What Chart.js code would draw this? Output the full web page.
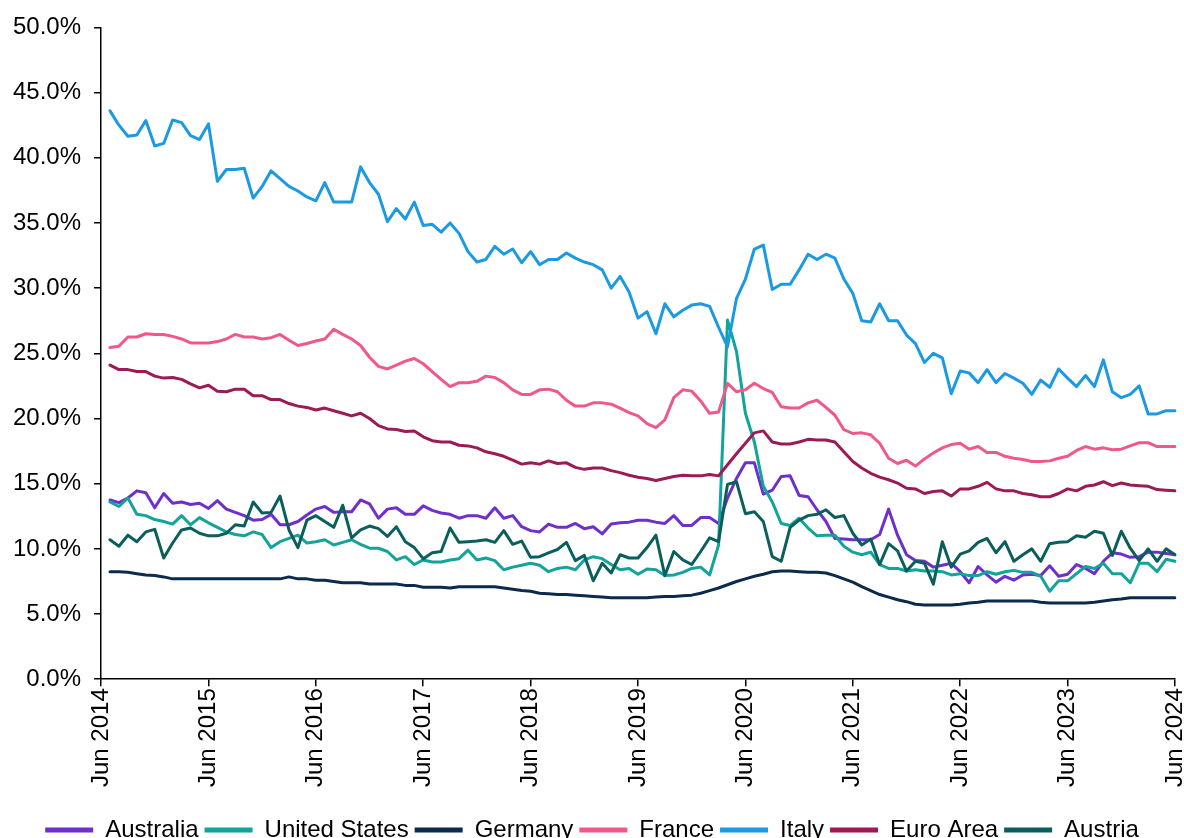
<!DOCTYPE html>
<html>
<head>
<meta charset="utf-8">
<script src="https://cdn.jsdelivr.net/npm/chart.js@4.4.1/dist/chart.umd.min.js"></script>
<style>
  html, body { margin: 0; padding: 0; background: #fff; overflow: hidden; }
  #wrap { position: relative; width: 1184px; height: 838px; }
</style>
</head>
<body>
<div id="wrap"><canvas id="chart"></canvas></div>
<script>
// monthly, Jun 2014 .. Jun 2024 (first month has no reading)
const monthNames = ["Jan", "Feb", "Mar", "Apr", "May", "Jun", "Jul", "Aug", "Sep", "Oct", "Nov", "Dec"];
const months = [];
for (let k = 0; k <= 120; k++) {
  const m = (5 + k) % 12;
  const y = 2014 + Math.floor((5 + k) / 12);
  months.push(`${monthNames[m]} ${y}`);
}

const seriesNames = ["Australia", "United States", "Germany", "France", "Italy", "Euro Area", "Austria"];
const seriesColors = ["#6F2FCC", "#12A39B", "#0C2A4C", "#F0588A", "#1C99E3", "#9C1A55", "#0A5F5C"];

const australia = [null,
  13.75, 13.55, 13.9, 14.45, 14.3, 13.15, 14.25, 13.5, 13.6, 13.4, 13.5, 13.1,
  13.7, 13.05, 12.8, 12.55, 12.2, 12.25, 12.65, 11.85, 11.85, 12.1, 12.6, 13.05,
  13.25, 12.8, 12.85, 12.85, 13.75, 13.45, 12.35, 13.05, 13.15, 12.65, 12.65, 13.3,
  12.95, 12.75, 12.65, 12.35, 12.55, 12.55, 12.35, 13.15, 12.35, 12.55, 11.7, 11.4,
  11.3, 11.9, 11.65, 11.65, 11.95, 11.55, 11.7, 11.15, 11.9, 12.0, 12.05, 12.2,
  12.2, 12.05, 11.95, 12.55, 11.8, 11.8, 12.4, 12.4, 11.95, 13.9, 15.4, 16.6,
  16.6, 14.2, 14.5, 15.55, 15.6, 14.1, 14.0, 13.0, 12.1, 10.8, 10.75, 10.7,
  10.7, 10.7, 11.1, 13.05, 11.05, 9.55, 9.1, 9.05, 8.6, 8.75, 8.9, 8.25,
  7.4, 8.65, 8.0, 7.45, 7.9, 7.6, 8.0, 8.05, 7.95, 8.7, 7.9, 8.05,
  8.8, 8.5, 8.1, 9.05, 9.7, 9.6, 9.35, 9.4, 9.75, 9.75, 9.65, 9.55];

const unitedStates = [null,
  13.6, 13.25, 13.9, 12.65, 12.55, 12.25, 12.1, 11.9, 12.55, 11.85, 12.4, 12.0,
  11.65, 11.3, 11.1, 11.0, 11.3, 11.1, 10.1, 10.55, 10.8, 11.05, 10.45, 10.55,
  10.7, 10.3, 10.5, 10.7, 10.35, 10.05, 10.05, 9.8, 9.15, 9.4, 8.8, 9.15,
  9.0, 9.0, 9.15, 9.25, 9.9, 9.15, 9.3, 9.1, 8.4, 8.6, 8.75, 8.9,
  8.75, 8.25, 8.5, 8.6, 8.4, 9.15, 9.4, 9.25, 8.8, 8.4, 8.5, 8.05,
  8.45, 8.4, 7.95, 8.0, 8.2, 8.5, 8.6, 8.0, 10.3, 27.55, 25.15, 20.4,
  18.2, 14.8, 13.6, 11.95, 11.8, 12.35, 11.6, 11.0, 11.05, 11.05, 10.2, 9.75,
  9.55, 9.75, 8.8, 8.5, 8.5, 8.3, 8.4, 8.3, 8.3, 8.25, 8.0, 8.1,
  7.95, 7.95, 8.25, 8.05, 8.25, 8.35, 8.2, 8.2, 7.9, 6.75, 7.55, 7.55,
  8.1, 8.65, 8.5, 8.9, 8.1, 8.1, 7.4, 8.9, 8.9, 8.25, 9.2, 9.05];

const germany = [null,
  8.25, 8.25, 8.2, 8.1, 8.0, 7.95, 7.85, 7.7, 7.7, 7.7, 7.7, 7.7,
  7.7, 7.7, 7.7, 7.7, 7.7, 7.7, 7.7, 7.7, 7.85, 7.7, 7.7, 7.6,
  7.6, 7.5, 7.4, 7.4, 7.4, 7.3, 7.3, 7.3, 7.3, 7.2, 7.2, 7.05,
  7.05, 7.05, 7.0, 7.1, 7.1, 7.1, 7.1, 7.1, 7.0, 6.9, 6.8, 6.75,
  6.6, 6.55, 6.5, 6.5, 6.45, 6.4, 6.35, 6.3, 6.25, 6.25, 6.25, 6.25,
  6.25, 6.3, 6.35, 6.35, 6.4, 6.45, 6.6, 6.8, 7.0, 7.25, 7.5, 7.7,
  7.9, 8.05, 8.25, 8.3, 8.3, 8.25, 8.2, 8.2, 8.15, 7.95, 7.7, 7.45,
  7.1, 6.8, 6.5, 6.3, 6.1, 5.95, 5.75, 5.7, 5.7, 5.7, 5.7, 5.75,
  5.85, 5.9, 6.0, 6.0, 6.0, 6.0, 6.0, 6.0, 5.9, 5.85, 5.85, 5.85,
  5.85, 5.85, 5.9, 6.0, 6.1, 6.15, 6.25, 6.25, 6.25, 6.25, 6.25, 6.25];

const france = [null,
  25.45, 25.55, 26.25, 26.25, 26.5, 26.45, 26.45, 26.3, 26.1, 25.8, 25.8, 25.8,
  25.9, 26.1, 26.45, 26.25, 26.25, 26.1, 26.2, 26.45, 26.0, 25.6, 25.75, 25.95,
  26.1, 26.85, 26.45, 26.1, 25.6, 24.7, 24.0, 23.8, 24.1, 24.4, 24.6, 24.2,
  23.6, 23.0, 22.45, 22.75, 22.75, 22.85, 23.25, 23.15, 22.75, 22.2, 21.85, 21.85,
  22.2, 22.25, 22.05, 21.4, 20.95, 20.95, 21.2, 21.2, 21.1, 20.8, 20.45, 20.2,
  19.6, 19.3, 19.9, 21.6, 22.2, 22.1, 21.35, 20.4, 20.5, 22.7, 22.05, 22.2,
  22.7, 22.3, 22.0, 20.9, 20.8, 20.8, 21.2, 21.4, 20.85, 20.25, 19.15, 18.85,
  18.9, 18.75, 18.1, 16.95, 16.55, 16.8, 16.35, 16.9, 17.35, 17.75, 18.0, 18.1,
  17.65, 17.85, 17.4, 17.4, 17.1, 16.95, 16.85, 16.7, 16.7, 16.75, 16.95, 17.1,
  17.55, 17.85, 17.65, 17.75, 17.6, 17.65, 17.9, 18.15, 18.15, 17.85, 17.85, 17.85];

const italy = [null,
  43.6, 42.5, 41.65, 41.75, 42.85, 40.9, 41.1, 42.9, 42.7, 41.7, 41.4, 42.6,
  38.2, 39.1, 39.1, 39.2, 36.9, 37.8, 39.0, 38.4, 37.8, 37.45, 37.0, 36.7,
  38.1, 36.6, 36.6, 36.6, 39.3, 38.1, 37.2, 35.1, 36.1, 35.3, 36.6, 34.8,
  34.9, 34.3, 35.0, 34.2, 32.8, 32.0, 32.2, 33.2, 32.6, 33.0, 31.95, 32.8,
  31.8, 32.2, 32.2, 32.7, 32.3, 32.0, 31.8, 31.4, 30.0, 30.9, 29.7, 27.7,
  28.2, 26.5, 28.8, 27.8, 28.3, 28.7, 28.8, 28.6, 27.0, 25.5, 29.2, 30.7,
  33.0, 33.3, 29.9, 30.3, 30.3, 31.4, 32.6, 32.2, 32.6, 32.3, 30.7, 29.6,
  27.5, 27.4, 28.8, 27.5, 27.5, 26.4, 25.75, 24.3, 25.0, 24.65, 21.9, 23.65,
  23.5, 22.75, 23.75, 22.75, 23.45, 23.1, 22.7, 21.85, 22.95, 22.4, 23.8, 23.1,
  22.45, 23.3, 22.45, 24.5, 22.05, 21.6, 21.85, 22.5, 20.35, 20.35, 20.6, 20.6];

const euroArea = [null,
  24.1, 23.75, 23.75, 23.6, 23.6, 23.25, 23.1, 23.15, 23.0, 22.65, 22.35, 22.55,
  22.1, 22.05, 22.25, 22.25, 21.75, 21.75, 21.45, 21.45, 21.15, 20.95, 20.85, 20.65,
  20.8, 20.6, 20.4, 20.2, 20.4, 20.0, 19.45, 19.2, 19.15, 19.0, 19.05, 18.6,
  18.3, 18.2, 18.2, 17.95, 17.9, 17.75, 17.45, 17.3, 17.1, 16.8, 16.5, 16.6,
  16.5, 16.75, 16.55, 16.6, 16.25, 16.1, 16.2, 16.2, 16.0, 15.85, 15.65, 15.5,
  15.4, 15.25, 15.4, 15.55, 15.65, 15.6, 15.6, 15.7, 15.6, 16.45, 17.3, 18.1,
  18.9, 19.05, 18.2, 18.05, 18.05, 18.2, 18.4, 18.35, 18.35, 18.2, 17.45, 16.7,
  16.2, 15.8, 15.5, 15.3, 15.05, 14.65, 14.6, 14.25, 14.4, 14.45, 14.05, 14.6,
  14.6, 14.8, 15.1, 14.6, 14.45, 14.45, 14.25, 14.15, 14.0, 14.0, 14.25, 14.6,
  14.45, 14.8, 14.9, 15.15, 14.85, 15.05, 14.9, 14.85, 14.8, 14.55, 14.5, 14.45];

const austria = [null,
  10.7, 10.2, 11.05, 10.55, 11.3, 11.5, 9.3, 10.45, 11.45, 11.6, 11.2, 11.0,
  11.0, 11.2, 11.85, 11.75, 13.6, 12.75, 12.8, 14.05, 11.45, 10.1, 12.2, 12.55,
  12.1, 11.65, 13.35, 10.85, 11.45, 11.75, 11.55, 10.95, 11.7, 10.55, 10.1, 9.25,
  9.7, 9.8, 11.6, 10.5, 10.55, 10.6, 10.7, 10.5, 11.4, 10.35, 10.6, 9.35,
  9.4, 9.7, 9.95, 10.5, 9.1, 9.5, 7.55, 8.9, 8.15, 9.55, 9.3, 9.3,
  10.1, 11.05, 7.95, 9.8, 9.15, 8.8, 9.8, 10.85, 10.55, 14.95, 15.15, 12.7,
  12.85, 12.1, 9.4, 9.05, 11.65, 12.2, 12.55, 12.65, 13.0, 12.4, 12.55, 11.2,
  10.3, 10.75, 8.8, 10.4, 9.85, 8.3, 9.05, 8.9, 7.3, 10.55, 8.6, 9.6,
  9.85, 10.5, 10.8, 9.7, 10.55, 9.05, 9.55, 10.0, 9.05, 10.4, 10.5, 10.55,
  11.0, 10.9, 11.35, 11.2, 9.5, 11.35, 10.05, 9.1, 10.0, 9.05, 10.0, 9.55];

const seriesData = [australia, unitedStates, germany, france, italy, euroArea, austria];

const yTicks = { min: 0, max: 50, step: 5 };
const fontFamily = "'Liberation Sans', Arial, sans-serif";

const datasets = seriesNames.map((name, i) => ({
  label: name,
  data: seriesData[i],
  borderColor: seriesColors[i],
  backgroundColor: seriesColors[i],
  borderWidth: 3,
  pointRadius: 0,
  tension: 0,
  borderJoinStyle: "round",
  borderCapStyle: "round",
  order: seriesNames.length - i
}));

new Chart(document.getElementById("chart"), {
  type: "line",
  data: { labels: months, datasets },
  options: {
    responsive: true,
    maintainAspectRatio: false,
    animation: false,
    layout: { padding: { left: 0, right: 0, top: 10, bottom: -14 } },
    plugins: {
      tooltip: { enabled: false },
      legend: {
        position: "bottom",
        labels: {
          color: "#000",
          font: { family: fontFamily, size: 24 },
          boxWidth: 48,
          boxHeight: 5,
          padding: 6,
          generateLabels: (chart) => chart.data.datasets.map((ds, i) => ({
            text: ds.label,
            fillStyle: ds.borderColor,
            strokeStyle: ds.borderColor,
            lineWidth: 0,
            hidden: false,
            datasetIndex: i,
            fontColor: "#000"
          }))
        }
      }
    },
    scales: {
      x: {
        grid: { drawOnChartArea: false, drawTicks: true, tickLength: 7, color: "#000", lineWidth: 1.5 },
        border: { color: "#000", width: 1.5 },
        ticks: {
          color: "#000",
          font: { family: fontFamily, size: 24 },
          autoSkip: false,
          minRotation: 90,
          maxRotation: 90,
          padding: 2,
          callback: (v, i) => (i % 12 === 0 ? months[i] : null)
        },
        afterFit: (scale) => {
          scale.height += 23;
          scale.paddingRight = 9;
        }
      },
      y: {
        min: yTicks.min,
        max: yTicks.max,
        grid: { drawOnChartArea: false, drawTicks: true, tickLength: 7, color: "#000", lineWidth: 1.5 },
        border: { color: "#000", width: 1.5 },
        ticks: {
          stepSize: yTicks.step,
          color: "#000",
          font: { family: fontFamily, size: 24 },
          padding: 13,
          callback: (v) => Number(v).toFixed(1) + "%"
        }
      }
    }
  }
});
</script>
</body>
</html>
